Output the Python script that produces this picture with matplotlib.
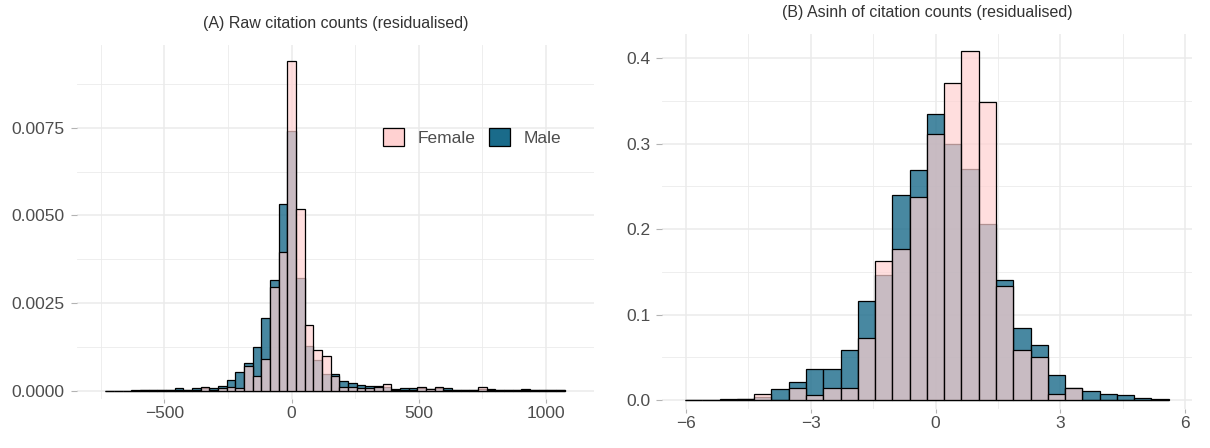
import numpy as np
import matplotlib
matplotlib.use("Agg")
import matplotlib.pyplot as plt
from matplotlib.colors import to_rgba
from matplotlib.patches import Patch

plt.rcParams['font.family'] = ['Liberation Sans', 'DejaVu Sans']

# ---- data ----
# panel A: raw counts, bin width ~34, bins centred on 0 (k = -21 .. 31)
a_width = 34.06
a_centres = np.arange(-21, 32) * a_width
a_female = [0, 0, 0, 0, 0.00001, 0.00001, 0.00002, 0.00003, 0.00002, 0.00003,
            0.00003, 0.00011, 0.00003, 0.00008, 0.00009, 0.00008, 0.0007, 0.00043,
            0.00089, 0.00295, 0.00394, 0.00939, 0.00518, 0.00187, 0.00116, 0.00098,
            0.00043, 0.0001, 0.00009, 0.00008, 0.00006, 0.00011, 0.00018, 0.00003,
            0.00002, 0.00002, 0.0001, 0.00004, 0.0001, 0.00003, 0.00003, 0.00003,
            0.00003, 0.0001, 0.00002, 0.00001, 0.00001, 0.00002, 0.00002, 0.00003,
            0.00002, 0.00001, 0.00001]
a_male = [0, 0, 0, 0.00001, 0.00001, 0.00001, 0.00002, 0.00003, 0.00006, 0.00003,
          0.00006, 0.00008, 0.00006, 0.00013, 0.00031, 0.00054, 0.0008, 0.00123,
          0.00206, 0.00316, 0.00532, 0.00741, 0.0032, 0.00128, 0.00088, 0.00046,
          0.00046, 0.00027, 0.00021, 0.00015, 0.00013, 0.00012, 0.0001, 0.00004,
          0.00008, 0.00006, 0.00006, 0.00004, 0.00006, 0.00006, 0.00003, 0.00003,
          0.00003, 0.00004, 0.00004, 0.00001, 0.00001, 0.00002, 0.00005, 0.00002,
          0.00002, 0.00001, 0.00001]

# panel B: asinh counts, bin width ~0.4155 (k = -14 .. 13)
b_width = 0.4155
b_centres = np.arange(-14, 14) * b_width
b_female = [0, 0, 0.0005, 0.001, 0.0074, 0, 0.014, 0.0066, 0.014, 0.014,
            0.073, 0.163, 0.177, 0.237, 0.311, 0.371, 0.408, 0.349, 0.133, 0.059,
            0.051, 0.007, 0.0145, 0, 0, 0, 0, 0]
b_male = [0, 0, 0.001, 0.0015, 0.0043, 0.0136, 0.021, 0.036, 0.0366, 0.059,
          0.116, 0.146, 0.240, 0.269, 0.334, 0.300, 0.270, 0.206, 0.141, 0.085,
          0.065, 0.029, 0.014, 0.011, 0.007, 0.0058, 0.0023, 0.0012]

female_col = '#FFD1D1'
male_col = '#1A6B8A'
grid_col = '#EBEBEB'
text_col = '#4D4D4D'

fig = plt.figure(figsize=(12.1, 4.48), dpi=100)
# panel boxes in pixels: A 76.5..594.3 x 45..399, B 662..1192.4 x 34..409
axA = fig.add_axes([76.5/1210, 49/448, 517.8/1210, 354/448])
axB = fig.add_axes([662/1210, 39/448, 530.4/1210, 375/448])


def draw_hist(ax, centres, width, male, female):
    ax.bar(centres, male, width=width, color=to_rgba(male_col, 0.8),
           edgecolor='black', linewidth=0.9, zorder=2)
    ax.bar(centres, female, width=width, color=to_rgba(female_col, 0.7),
           edgecolor='black', linewidth=0.9, zorder=3)


def style(ax):
    for s in ax.spines.values():
        s.set_visible(False)
    ax.grid(True, which='major', color=grid_col, linewidth=1.1, zorder=0)
    ax.grid(True, which='minor', color=grid_col, linewidth=0.6, zorder=0)
    ax.set_axisbelow(True)
    ax.tick_params(which='major', length=3, width=0.8, color='#B3B3B3',
                   labelsize=12.5, labelcolor=text_col, pad=2)
    ax.tick_params(axis='y', which='major', length=4, pad=4.5)
    ax.tick_params(which='minor', length=0)


draw_hist(axA, a_centres, a_width, a_male, a_female)
style(axA)
axA.set_xlim(-846, 1190)
axA.set_ylim(-0.00024, 0.00986)
axA.set_xticks([-500, 0, 500, 1000])
axA.set_xticks([-750, -250, 250, 750], minor=True)
axA.set_yticks([0, 0.0025, 0.005, 0.0075])
axA.set_yticks([0.00125, 0.00375, 0.00625, 0.00875], minor=True)
axA.set_yticklabels(['0.0000', '0.0025', '0.0050', '0.0075'])
axA.set_title('(A) Raw citation counts (residualised)', fontsize=11.5,
              color='#333333', pad=12)

handles = [Patch(facecolor=female_col, edgecolor='black', linewidth=0.9, label='Female'),
           Patch(facecolor=male_col, edgecolor='black', linewidth=0.9, label='Male')]
leg = axA.legend(handles=handles, loc='center', bbox_to_anchor=(0.764, 0.74),
                 ncol=2, frameon=False, fontsize=12.5, handlelength=1.2,
                 handleheight=1.2, handletextpad=0.8, columnspacing=0.8)
for t in leg.get_texts():
    t.set_color(text_col)

draw_hist(axB, b_centres, b_width, b_male, b_female)
style(axB)
axB.set_xlim(-6.58, 6.18)
axB.set_ylim(-0.0102, 0.428)
axB.set_xticks([-6, -3, 0, 3, 6])
axB.set_xticks([-4.5, -1.5, 1.5, 4.5], minor=True)
axB.set_yticks([0, 0.1, 0.2, 0.3, 0.4])
axB.set_yticks([0.05, 0.15, 0.25, 0.35], minor=True)
axB.set_yticklabels(['0.0', '0.1', '0.2', '0.3', '0.4'])
axB.set_title('(B) Asinh of citation counts (residualised)', fontsize=11.5,
              color='#333333', pad=12)

fig.savefig('out.png', dpi=100)
